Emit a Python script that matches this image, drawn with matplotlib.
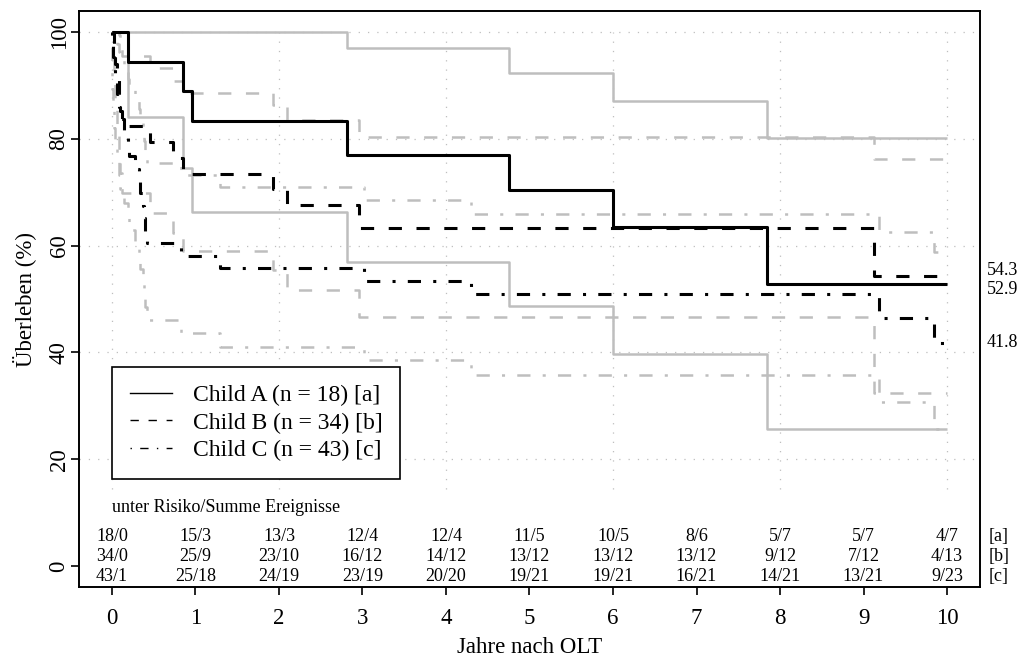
import matplotlib.pyplot as plt
from matplotlib.lines import Line2D

plt.rcParams['font.family'] = ['Liberation Serif', 'DejaVu Serif']
plt.rcParams['lines.scale_dashes'] = False

# Kaplan-Meier steps (years, survival %) with 95% bands
a_t = [0.195, 0.85, 0.96, 2.81, 4.75, 6.0, 7.85]
a_s = [94.4, 88.9, 83.3, 76.9, 70.5, 63.5, 52.9]
a_hi = [100, 100, 100, 97.0, 92.3, 87.1, 80.1]
a_lo = [84.0, 74.5, 66.3, 57.0, 48.7, 39.8, 25.6]

b_t = [0.02, 0.04, 0.06, 0.08, 0.10, 0.12, 0.46, 0.73, 0.85, 1.93, 2.1, 2.96, 9.13]
b_s = [97.1, 94.1, 91.2, 88.2, 85.3, 82.4, 79.4, 76.5, 73.5, 70.6, 67.6, 63.35, 54.3]
b_hi = [100, 100, 100, 99.5, 97.5, 95.5, 93.2, 90.9, 88.6, 86.3, 83.5, 80.3, 76.3]
b_lo = [91.0, 86.0, 81.7, 77.6, 73.6, 69.8, 66.1, 62.4, 59.0, 55.5, 51.7, 46.6, 32.4]

c_t = [0.0, 0.01, 0.02, 0.04, 0.06, 0.08, 0.10, 0.14, 0.19, 0.20, 0.28, 0.32,
       0.34, 0.37, 0.38, 0.40, 0.42, 0.83, 1.29, 3.02, 4.3, 9.18, 9.84]
c_s = [97.7, 95.3, 93.0, 90.7, 88.4, 86.0, 83.7, 81.4, 79.1, 76.7, 74.4, 72.1,
       69.8, 67.4, 65.1, 62.8, 60.5, 58.1, 55.8, 53.4, 50.9, 46.5, 41.8]
c_hi = [100, 100, 100, 99.2, 97.8, 96.3, 94.7, 93.0, 91.2, 89.4, 87.5, 85.6,
        83.6, 81.6, 79.6, 77.5, 75.4, 73.2, 70.9, 68.5, 66.0, 62.6, 58.9]
c_lo = [89.3, 85.3, 82.0, 79.0, 76.1, 73.3, 70.6, 68.0, 65.4, 62.9, 60.4, 58.0,
        55.6, 53.2, 50.8, 48.5, 46.1, 43.6, 41.1, 38.6, 35.8, 30.7, 25.6]

years = list(range(11))
risk_a = ['18/0', '15/3', '13/3', '12/4', '12/4', '11/5', '10/5', '8/6', '5/7', '5/7', '4/7']
risk_b = ['34/0', '25/9', '23/10', '16/12', '14/12', '13/12', '13/12', '13/12', '9/12', '7/12', '4/13']
risk_c = ['43/1', '25/18', '24/19', '23/19', '20/20', '19/21', '19/21', '16/21', '14/21', '13/21', '9/23']

labels = ['Child A (n = 18) [a]', 'Child B (n = 34) [b]', 'Child C (n = 43) [c]']
t_end = 10.0

DASH = (0, (9.5, 10.5))
DASHDOT = (0, (2.2, 8.8, 9.5, 8.8))
GREY = '#bebebe'


def km(ax, t, s, **kw):
    xs = [0] + t + [t_end]
    ys = [100] + s + [s[-1]]
    ax.step(xs, ys, where='post', dash_capstyle='butt', solid_capstyle='butt', **kw)


fig = plt.figure(figsize=(10.22, 6.57), dpi=100)
ax = fig.add_axes([0.0769, 0.1059, 0.8824, 0.8779])
ax.set_xlim(-0.4, 10.4)
ax.set_ylim(-4, 104)

# dotted grid
for y in [20, 40, 60, 80, 100]:
    ax.axhline(y, color=GREY, lw=0.9, ls=(0, (0.9, 5.8)), zorder=0)
ax.vlines([0, 2, 4, 6, 8, 10], 14.5, 100, color=GREY, lw=0.9, ls=(0, (0.9, 5.8)), zorder=0)

for t, lo, hi, ls in [(a_t, a_lo, a_hi, '-'), (b_t, b_lo, b_hi, DASH), (c_t, c_lo, c_hi, DASHDOT)]:
    km(ax, t, hi, color=GREY, lw=1.8, ls=ls)
    km(ax, t, lo, color=GREY, lw=1.8, ls=ls)

km(ax, a_t, a_s, color='black', lw=2.2, ls='-')
km(ax, b_t, b_s, color='black', lw=2.2, ls=DASH)
km(ax, c_t, c_s, color='black', lw=2.2, ls=DASHDOT)

# final estimates at the right edge
for txt, y in [('54.3', 55.4), ('52.9', 51.8), ('41.8', 41.8)]:
    ax.text(10.48, y, txt, ha='left', va='center', fontsize=13, clip_on=False)

# number at risk / cumulative events
ax.text(0, 10.9, 'unter Risiko/Summe Ereignisse', ha='left', va='center', fontsize=13)
for row, y, tag in [(risk_a, 5.6, '[a]'), (risk_b, 1.8, '[b]'), (risk_c, -2.0, '[c]')]:
    for x, s in zip(years, row):
        ax.text(x, y, s, ha='center', va='center', fontsize=13)
    ax.text(10.5, y, tag, ha='left', va='center', fontsize=13, clip_on=False)

handles = [Line2D([], [], color='black', lw=1, ls='-'),
           Line2D([], [], color='black', lw=1, ls=(0, (6, 7))),
           Line2D([], [], color='black', lw=1, ls=(0, (1, 6, 6, 6)))]
leg = ax.legend(handles, labels, loc='upper left', bbox_to_anchor=(0, 37.3),
                bbox_transform=ax.transData, borderaxespad=0, fontsize=17,
                handlelength=1.8, handletextpad=0.85, borderpad=0.76, labelspacing=0.25,
                fancybox=False, framealpha=1, edgecolor='black')
leg.get_frame().set_linewidth(1.2)

ax.set_xticks(years)
ax.set_yticks([0, 20, 40, 60, 80, 100])
ax.set_yticklabels(['0', '20', '40', '60', '80', '100'], rotation=90, va='center')
ax.tick_params(axis='both', direction='out', length=6, width=1.2, labelsize=16.5)
ax.tick_params(axis='x', pad=8.5)
ax.tick_params(axis='y', pad=0.5)
for sp in ax.spines.values():
    sp.set_linewidth(1.4)
ax.set_xlabel('Jahre nach OLT', fontsize=16.5, labelpad=6)
ax.set_ylabel('Überleben (%)', fontsize=16.5, labelpad=9)

fig.savefig('out.png', dpi=100)
